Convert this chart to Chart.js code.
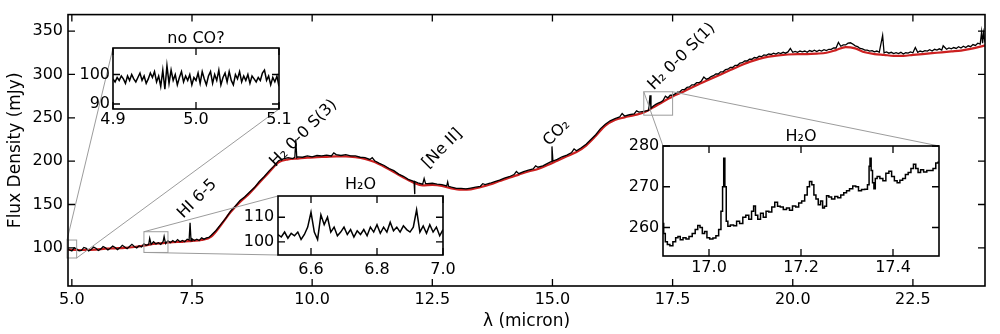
<!DOCTYPE html>
<html><head><meta charset="utf-8">
<script src="https://cdn.jsdelivr.net/npm/chart.js@4.4.1/dist/chart.umd.min.js"></script>
<style>
html,body{margin:0;padding:0;background:#fff;width:1000px;height:334px;overflow:hidden;position:relative}
canvas{position:absolute;display:block}
</style></head><body>
<canvas id="main" width="1000" height="334" style="left:0;top:0;width:1000px;height:334px;z-index:1"></canvas>
<canvas id="in1" style="z-index:2"></canvas>
<canvas id="in2" style="z-index:2"></canvas>
<canvas id="in3" style="z-index:2"></canvas>
<script>
// ---------- observed spectrum (black) ----------
const obsWave = [
 4.90,4.95,5.00,5.05,5.10,5.15,5.20,5.25,5.30,5.35,5.40,5.45,
 5.50,5.55,5.60,5.65,5.70,5.75,5.80,5.85,5.90,5.95,
 6.00,6.05,6.10,6.15,6.20,6.25,6.30,6.35,6.40,6.45,
 6.50,6.55,6.60,6.62,6.65,6.70,6.75,6.80,6.85,6.90,6.92,6.95,
 7.00,7.05,7.10,7.15,7.20,7.25,7.30,7.35,7.40,7.44,7.46,7.48,
 7.50,7.55,7.60,7.65,7.70,7.75,7.80,7.85,7.90,
 8.0,8.1,8.2,8.3,8.4,8.5,8.6,8.7,8.8,8.9,
 9.0,9.1,9.2,9.3,9.4,9.5,9.6,9.64,9.66,9.68,9.7,9.8,9.9,
 10.0,10.1,10.2,10.3,10.4,10.45,10.5,10.6,10.7,10.8,10.9,
 11.0,11.1,11.2,11.25,11.3,11.4,11.5,11.6,11.7,11.8,11.9,
 12.0,12.1,12.12,12.13,12.14,12.2,12.3,12.33,12.36,12.4,12.5,12.6,12.7,12.8,12.82,12.84,12.9,
 13.0,13.1,13.2,13.3,13.4,13.5,13.55,13.6,13.7,13.8,13.9,
 14.0,14.1,14.2,14.25,14.3,14.4,14.5,14.6,14.65,14.7,14.8,14.9,14.97,14.99,
 15.01,15.1,15.2,15.3,15.4,15.45,15.5,15.6,15.7,15.8,15.9,
 16.0,16.1,16.2,16.3,16.4,16.45,16.5,16.6,16.7,16.75,16.8,16.9,
 17.00,17.03,17.05,17.10,17.15,17.20,17.25,17.30,17.35,17.40,17.45,
 17.50,17.55,17.60,17.65,17.70,17.75,17.80,17.85,17.90,17.95,
 18.00,18.05,18.10,18.15,18.20,18.25,18.30,18.35,18.40,18.45,
 18.50,18.55,18.60,18.65,18.70,18.75,18.80,18.85,18.90,18.95,
 19.00,19.05,19.10,19.15,19.20,19.25,19.30,19.35,19.40,19.45,
 19.50,19.55,19.60,19.65,19.70,19.75,19.80,19.85,19.90,19.95,
 20.00,20.05,20.10,20.15,20.20,20.25,20.30,20.35,20.40,20.45,
 20.50,20.55,20.60,20.65,20.70,20.75,20.80,20.85,20.90,20.95,
 21.00,21.05,21.10,21.15,21.20,21.25,21.30,21.35,21.40,21.45,
 21.50,21.55,21.60,21.65,21.70,21.75,21.80,21.87,21.90,21.95,
 22.00,22.05,22.10,22.15,22.20,22.25,22.30,22.35,22.40,22.45,
 22.50,22.55,22.60,22.65,22.70,22.75,22.80,22.85,22.90,22.95,
 23.00,23.05,23.10,23.13,23.20,23.25,23.30,23.35,23.40,23.45,
 23.50,23.55,23.60,23.65,23.70,23.75,23.80,23.85,23.90,23.93,23.95,23.97,24.00
];
const obsFlux = [
 99.5,97.5,96.5,100,99,96.5,97,100.5,99.5,96.5,98,101,
 99.5,97,98.5,101.5,100,97.5,99.5,102,100.5,98,
 100,103,101,99,101.5,104,101.5,100,102.5,101,
 104.5,103,104,111,104,107,104.5,106,104,107.5,113,105,
 108,106,108.5,106.5,109.5,107,108.5,107,110,109,129,108,
 110.5,108.5,110,108.5,111.5,110,111.5,112,114.5,
 120,127,134,142,148,154.5,159,164.5,169.5,176.5,
 182,188.5,194,200.5,202.5,204,203,204.5,225,204,205,204.5,206,
 205,206.5,206,207,206,209.5,207.5,206.5,207.5,206,206,
 204.5,204,202,204,200.5,197.5,195,191.5,189,185,182.5,
 179,177,176.5,162,176.5,175,173.5,180,174,174,174.5,173.5,173,171.5,176,171,170,
 168.5,168.5,168,169,170,171,174,173,174.5,176.5,178,
 180.5,182,184.5,188,185.5,188,189.5,191,194.5,193,194.5,197.5,199.5,217,
 200,202,205,207,210,214,212,215.5,219.5,225,230.5,
 237.5,242.5,246.5,249,251,255,252,253.5,254.5,258,256.5,257.5,
 258.5,276,261,263.5,265.5,267,268,270,275,273,276,
 276,277.5,279.5,280,282.5,282.5,285,285.5,288,288,
 290.5,290.5,292.5,297,294.5,295.5,297.5,298.5,300.5,300.5,
 303,303,305.5,306,308,308,310.5,310.5,313,313.5,
 315.5,315.5,317.5,317.5,319.5,319,321,320.5,322.5,322,
 323.5,323,324.5,323.5,325,324,325.5,324.5,326,330,
 325.5,326.5,325.5,327,326,327,325.5,327.5,326.5,328,
 326.5,328,327,328.5,327.5,329,329,330.5,330.5,337,
 332.5,334,334,336,336.5,335,333,332,330,329.5,
 328,328,327,327.5,326,327,325.5,345,325,326,
 324.5,325.5,324,325,324,325.5,323.5,325,324.5,326,
 325,331,325.5,327,326,327.5,327,328.5,327,329,
 328,329.5,328,333,329,330.5,329.5,331,330,332,
 330.5,332.5,331,333,332,334.5,333.5,336,335,349,336,348,337
];
// ---------- continuum model (red) ----------
const modelWave = [
 4.9,5.1,5.3,5.5,5.7,5.9, 6.1,6.3,6.5,6.7,6.9, 7.1,7.3,7.5,7.7,7.9,
 8.1,8.3,8.5,8.7,8.9, 9.1,9.3,9.5,9.7,9.9, 10.1,10.3,10.5,10.7,10.9,
 11.1,11.3,11.5,11.7,11.9, 12.1,12.3,12.5,12.7,12.9, 13.1,13.3,13.5,13.7,13.9,
 14.1,14.3,14.5,14.7,14.9, 15.1,15.3,15.5,15.7,15.9, 16.1,16.3,16.5,16.7,16.9,
 17.1,17.3,17.5,17.7,17.9, 18.1,18.3,18.5,18.7,18.9, 19.1,19.3,19.5,19.7,19.9,
 20.1,20.3,20.5,20.7,20.9, 21.1,21.3,21.5,21.7,21.9, 22.1,22.3,22.5,22.7,22.9,
 23.1,23.3,23.5,23.7,23.9,24.0
];
const modelFlux = [
 98,97.5,97.5,98,99,99.5, 100,101,102.5,104.5,105.5, 106.5,107,108,109,113,
 126,141,153,163,175, 187,198.5,202,203,204, 204.5,205,205.5,205.5,204.5,
 202.5,199,193.5,187.5,181, 175.5,172,172.5,171.5,168.5, 167,167.5,170,173,177,
 181,184.5,188,191,195.5, 200.5,205.5,210.5,218,229, 241,247.5,250.5,253,256,
 262,268.5,274.5,279.5,285, 290,295,300,305,310, 314.5,318,320.5,322,323,
 323.5,323.5,324,325,328, 331.5,330,325.5,323.5,322.5, 321.5,321.5,322.5,323.5,324.5,
 325.5,326.5,327.5,329.5,332,333.5
];
// ---------- inset: no CO? ----------
const coWave = [
 4.9,4.9025,4.905,4.9075,4.91,4.9125,4.915,4.9175,4.92,4.9225,
 4.925,4.9275,4.93,4.9325,4.935,4.9375,4.94,4.9425,4.945,4.9475,
 4.95,4.9525,4.955,4.9575,4.96,4.9625,4.965,4.9675,4.97,4.9725,
 4.975,4.9775,4.98,4.9825,4.985,4.9875,4.99,4.9925,4.995,4.9975,
 5.0,5.0025,5.005,5.0075,5.01,5.0125,5.015,5.0175,5.02,5.0225,
 5.025,5.0275,5.03,5.0325,5.035,5.0375,5.04,5.0425,5.045,5.0475,
 5.05,5.0525,5.055,5.0575,5.06,5.0625,5.065,5.0675,5.07,5.0725,
 5.075,5.0775,5.08,5.0825,5.085,5.0875,5.09,5.0925,5.095,5.0975,5.1
];
const coFlux = [
 98.5,97.5,99,98,99.5,98.5,97,99.5,98,100,
 98.5,97.5,99,100.5,98,99.5,97,98.5,100.5,99,
 101,97.5,99.5,96,101.5,95,103,97,101.5,98,
 100,96.5,99,101,97.5,99.5,98,100,96.5,99,
 98,100.5,97,101,98.5,96.5,99.5,101,97,100,
 98,101.5,96.5,99,100.5,97.5,101,98,96.5,100,
 98.5,101,97.5,99.5,98,100,97,99.5,98.5,97.5,
 99,98,100.5,101.5,98,99.5,96.5,99,97.5,99.5,96
];
// ---------- inset: H2O 6.5-7.0 ----------
const h2oAWave = [
 6.50,6.51,6.52,6.53,6.54,6.55,6.56,6.57,6.58,6.59,
 6.60,6.61,6.62,6.63,6.64,6.65,6.66,6.67,6.68,6.69,
 6.70,6.71,6.72,6.73,6.74,6.75,6.76,6.77,6.78,6.79,
 6.80,6.81,6.82,6.83,6.84,6.85,6.86,6.87,6.88,6.89,
 6.90,6.91,6.92,6.93,6.94,6.95,6.96,6.97,6.98,6.99,7.00
];
const h2oAFlux = [
 103,102,104,101.5,103.5,102.5,104,101,103,106,
 112,104,101,111,107,110,104,106,102.5,104,
 106,103,105,102,104.5,103,105,102.5,106,104,
 107,103.5,106,104,108,104.5,106,104,106.5,105,
 104,106,113,104,106.5,103.5,107,104,106,102.5,105
];
// ---------- inset: H2O 16.9-17.5 ----------
const h2oBWave = [
 16.900,16.903,16.907,16.912,16.918,16.925,16.930,16.935,16.940,16.947,
 16.953,16.960,16.967,16.973,16.978,16.983,16.988,16.993,16.998,17.005,
 17.012,17.018,17.024,17.028,17.031,17.033,17.036,17.039,17.043,17.050,
 17.057,17.063,17.070,17.077,17.083,17.090,17.095,17.099,17.103,17.109,
 17.115,17.121,17.127,17.133,17.140,17.146,17.152,17.158,17.165,17.172,
 17.178,17.185,17.192,17.198,17.205,17.211,17.216,17.221,17.226,17.230,
 17.235,17.240,17.245,17.249,17.253,17.258,17.263,17.270,17.277,17.283,
 17.290,17.296,17.302,17.309,17.316,17.322,17.328,17.335,17.342,17.347,
 17.349,17.351,17.354,17.357,17.360,17.363,17.368,17.375,17.381,17.388,
 17.394,17.400,17.406,17.412,17.418,17.424,17.430,17.436,17.442,17.447,
 17.452,17.457,17.463,17.470,17.477,17.484,17.490,17.496,17.500
];
const h2oBFlux = [
 261,258.5,256.5,255.8,255.5,256.5,257.5,257.8,257,257.5,
 257.2,257.8,258.5,259.5,260.5,260,258.5,259,257.5,257.2,
 257.4,258,259.5,264,270,277,270,261.5,260.3,260.6,
 260.4,261.5,261,262.5,263,262,264,265.3,263,262,
 263.5,262.5,264,263.8,265,266.2,265.2,265,264.4,264.8,
 264.2,265.3,265,266,266.5,268,270,271.3,270.5,268,
 267,265.6,266.5,264.8,265.2,267.8,267.5,267,267.6,267.3,
 268,268.5,269,269.5,270.2,270,269,269.3,269.4,270.5,
 275,277,274,271,269.5,272,272.5,272,271.5,273.3,
 273.8,272.5,271.5,271,271.6,272,273,273.5,274.5,275.5,
 274.5,273.5,274.2,273.6,274,274,274.5,275.8,276
];
// ---------- ticks / labels ----------
const mainXTicks = [5.0,7.5,10.0,12.5,15.0,17.5,20.0,22.5];
const mainYTicks = [100,150,200,250,300,350];
const coXTicks = [4.9,5.0,5.1];   const coYTicks = [90,100];
const h2oAXTicks = [6.6,6.8,7.0]; const h2oAYTicks = [100,110];
const h2oBXTicks = [17.0,17.2,17.4]; const h2oBYTicks = [260,270,280];
const lineLabels = ['HI 6-5','H\u2082 0-0 S(3)','[Ne II]','CO\u2082','H\u2082 0-0 S(1)'];
const lineLabelX = [7.61, 9.82, 12.71, 15.09, 17.69];
const lineLabelY = [156.5, 232, 214.4, 232.6, 320.5];

Chart.defaults.font.family = "'DejaVu Sans', sans-serif";
Chart.defaults.font.size = 16;
Chart.defaults.color = '#000';

const framePlugin = {
  id: 'frame',
  beforeDraw(chart) {
    const {ctx, chartArea: a} = chart;
    ctx.save(); ctx.fillStyle = '#fff';
    ctx.fillRect(a.left, a.top, a.right - a.left, a.bottom - a.top);
    ctx.restore();
  },
  afterDatasetsDraw(chart, args, o) {
    const {ctx, chartArea: a, scales: {x, y}} = chart;
    ctx.save();
    ctx.strokeStyle = '#000';
    ctx.lineWidth = 1.6;
    ctx.strokeRect(a.left, a.top, a.right - a.left, a.bottom - a.top);
    ctx.lineWidth = 1.3;
    const L = 7;
    ctx.beginPath();
    x.ticks.forEach(t => {
      const p = x.getPixelForValue(t.value);
      ctx.moveTo(p, a.bottom); ctx.lineTo(p, a.bottom - L);
      ctx.moveTo(p, a.top); ctx.lineTo(p, a.top + L);
    });
    y.ticks.forEach(t => {
      const p = y.getPixelForValue(t.value);
      ctx.moveTo(a.left, p); ctx.lineTo(a.left + L, p);
      ctx.moveTo(a.right, p); ctx.lineTo(a.right - L, p);
    });
    ctx.stroke();
    if (o && o.title) {
      ctx.fillStyle = '#000';
      ctx.font = "16px 'DejaVu Sans'";
      ctx.textAlign = 'center'; ctx.textBaseline = 'middle';
      ctx.fillText(o.title, (a.left + a.right) / 2, a.top - o.titleOffset);
    }
    ctx.restore();
  }
};

function makeInset(id, box, c) {
  const yw = 60, xh = 30, tp = 30, rp = 25;
  const cv = document.getElementById(id);
  const W = (box.r - box.l) + yw + rp, H = (box.b - box.t) + tp + xh;
  cv.width = W; cv.height = H;
  cv.style.width = W + 'px'; cv.style.height = H + 'px';
  cv.style.left = (box.l - yw) + 'px'; cv.style.top = (box.t - tp) + 'px';
  const chart = new Chart(cv, {
    type: 'line',
    data: {datasets: [{
      data: c.wave.map((w, i) => ({x: w, y: c.flux[i]})),
      borderColor: '#000', borderWidth: 1.5, pointRadius: 0,
      stepped: c.stepped || false, tension: 0
    }]},
    options: {
      responsive: false, animation: false, devicePixelRatio: 1,
      layout: {padding: {top: tp, right: rp, left: 0, bottom: 0}},
      plugins: {legend: {display: false}, tooltip: {enabled: false},
        frame: {title: c.title, titleOffset: c.titleOffset}},
      scales: {
        x: {type: 'linear', min: c.xr[0], max: c.xr[1],
          afterBuildTicks: s => { s.ticks = c.xticks.map(v => ({value: v})); },
          afterFit: s => { s.height = xh; },
          grid: {display: false, drawTicks: false}, border: {display: false},
          ticks: {autoSkip: false, maxRotation: 0, padding: c.xpad, callback: v => Number(v).toFixed(1)}},
        y: {type: 'linear', min: c.yr[0], max: c.yr[1],
          afterBuildTicks: s => { s.ticks = c.yticks.map(v => ({value: v})); },
          afterFit: s => { s.width = yw; },
          grid: {display: false, drawTicks: false}, border: {display: false},
          ticks: {autoSkip: false, padding: c.ypad, callback: v => String(v)}}
      }
    },
    plugins: [framePlugin]
  });
  return {chart, ox: box.l - yw, oy: box.t - tp, xr: c.xr, yr: c.yr, links: c.links};
}

const insets = [
  makeInset('in1', {l: 113, t: 48, r: 279, b: 109}, {
    wave: coWave, flux: coFlux, xr: [4.9, 5.1], yr: [88.3, 109], xticks: coXTicks, yticks: coYTicks,
    title: 'no CO?', titleOffset: 9.5, xpad: 1, ypad: 3, links: ['ul', 'lr']}),
  makeInset('in2', {l: 278, t: 196, r: 443, b: 255}, {
    wave: h2oAWave, flux: h2oAFlux, xr: [6.5, 7.0], yr: [94.7, 118.6], xticks: h2oAXTicks, yticks: h2oAYTicks,
    title: 'H\u2082O', titleOffset: 11, xpad: 5.4, ypad: 3.7, links: ['ul', 'll']}),
  makeInset('in3', {l: 663, t: 146, r: 939, b: 256}, {
    wave: h2oBWave, flux: h2oBFlux, xr: [16.9, 17.5], yr: [253, 280], xticks: h2oBXTicks, yticks: h2oBYTicks,
    title: 'H\u2082O', titleOffset: 9.5, xpad: 2.7, ypad: 3.7, links: ['ul', 'ur'], stepped: 'middle'})
];

const extrasPlugin = {
  id: 'extras',
  afterDatasetsDraw(chart) {
    const {ctx, scales: {x, y}} = chart;
    ctx.save();
    ctx.strokeStyle = '#9c9c9c';
    ctx.lineWidth = 1;
    insets.forEach(ins => {
      const x0 = x.getPixelForValue(ins.xr[0]), x1 = x.getPixelForValue(ins.xr[1]);
      const y0 = y.getPixelForValue(ins.yr[1]), y1 = y.getPixelForValue(ins.yr[0]);
      ctx.strokeRect(x0, y0, x1 - x0, y1 - y0);
      const a = ins.chart.chartArea;
      const L = ins.ox + a.left, R = ins.ox + a.right, T = ins.oy + a.top, B = ins.oy + a.bottom;
      const corner = {ul: [[x0, y0], [L, T]], ur: [[x1, y0], [R, T]], ll: [[x0, y1], [L, B]], lr: [[x1, y1], [R, B]]};
      ins.links.forEach(k => {
        const [p, q] = corner[k];
        ctx.beginPath(); ctx.moveTo(p[0], p[1]); ctx.lineTo(q[0], q[1]); ctx.stroke();
      });
    });
    ctx.fillStyle = '#000';
    ctx.font = "16px 'DejaVu Sans'";
    ctx.textAlign = 'center'; ctx.textBaseline = 'middle';
    lineLabels.forEach((t, i) => {
      ctx.save();
      ctx.translate(x.getPixelForValue(lineLabelX[i]), y.getPixelForValue(lineLabelY[i]));
      ctx.rotate(-Math.PI / 4);
      ctx.fillText(t, 0, 0);
      ctx.restore();
    });
    ctx.restore();
  }
};

new Chart(document.getElementById('main'), {
  type: 'line',
  data: {datasets: [
    {data: obsWave.map((w, i) => ({x: w, y: obsFlux[i]})), borderColor: '#000', borderWidth: 1.3,
      pointRadius: 0, tension: 0, order: 0},
    {data: modelWave.map((w, i) => ({x: w, y: modelFlux[i]})), borderColor: '#cc2020', borderWidth: 2.2,
      pointRadius: 0, cubicInterpolationMode: 'monotone', order: 1}
  ]},
  options: {
    responsive: false, animation: false, devicePixelRatio: 1,
    layout: {padding: {top: 13, right: 15, left: 0, bottom: 0}},
    plugins: {legend: {display: false}, tooltip: {enabled: false}},
    scales: {
      x: {type: 'linear', min: 4.92, max: 24.0,
        afterBuildTicks: s => { s.ticks = mainXTicks.map(v => ({value: v})); },
        afterFit: s => { s.height = 48; },
        grid: {display: false, drawTicks: false}, border: {display: false},
        ticks: {autoSkip: false, maxRotation: 0, padding: 4.4, callback: v => Number(v).toFixed(1)},
        title: {display: true, text: '\u03bb (micron)', font: {size: 17}, padding: {top: 0, bottom: 1.8}}},
      y: {type: 'linear', min: 56, max: 369,
        afterBuildTicks: s => { s.ticks = mainYTicks.map(v => ({value: v})); },
        afterFit: s => { s.width = 68; },
        grid: {display: false, drawTicks: false}, border: {display: false},
        ticks: {autoSkip: false, padding: 5, callback: v => String(v)},
        title: {display: true, text: 'Flux Density (mJy)', font: {size: 17}, padding: {top: 5.3, bottom: 0}}}
    }
  },
  plugins: [extrasPlugin, framePlugin]
});
</script>
</body></html>
